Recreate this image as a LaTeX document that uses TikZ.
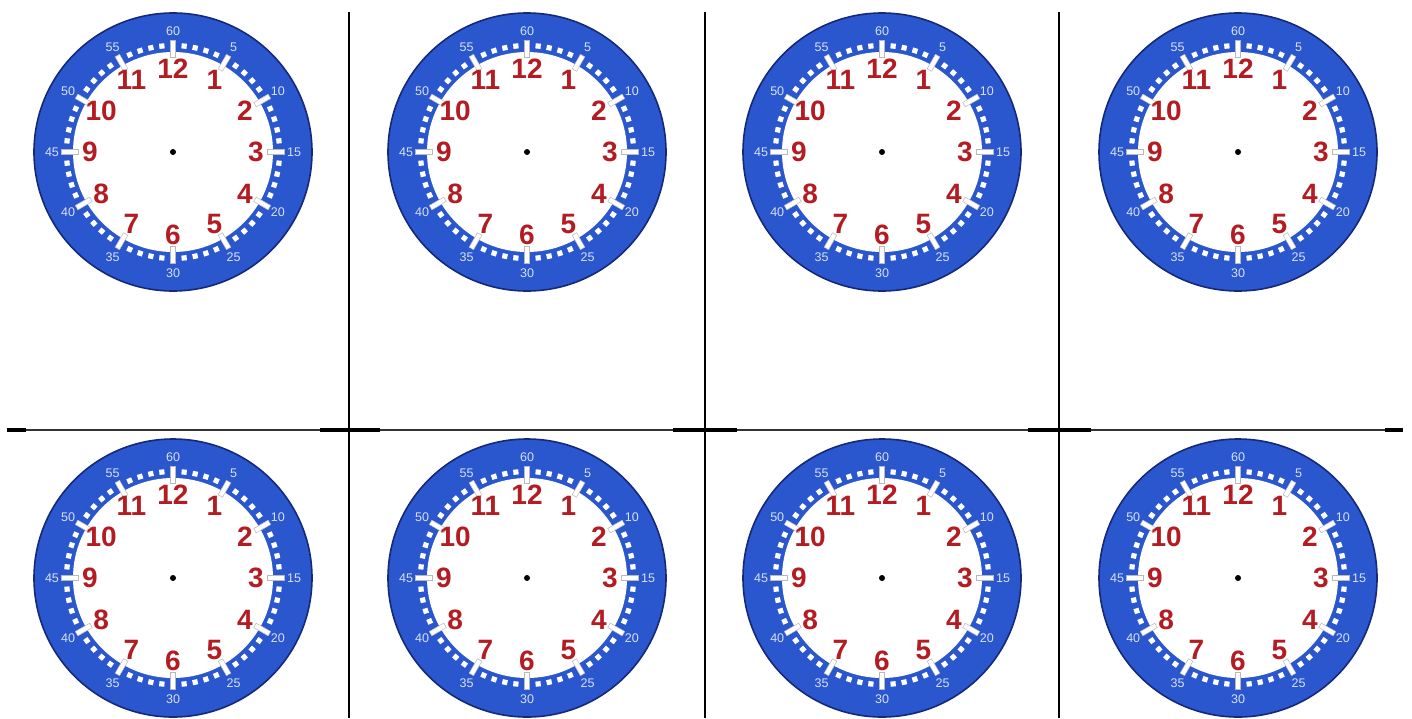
\documentclass[tikz,border=0pt]{standalone}
\usepackage{fontspec}
\setmainfont{Liberation Sans}
\definecolor{dialblue}{RGB}{42,86,206}
\definecolor{dialedge}{RGB}{22,40,120}
\definecolor{hourred}{RGB}{178,28,34}
\definecolor{minlabel}{RGB}{215,225,245}
\tikzset{
  hournum/.style={text=hourred, font=\bfseries\fontsize{21pt}{21pt}\selectfont, inner sep=0pt},
  minnum/.style={text=minlabel, font=\fontsize{9.4pt}{9.4pt}\selectfont, inner sep=0pt},
  dotsq/.style={fill=white, rectangle, minimum width=3.9pt, minimum height=3.9pt, inner sep=0pt},
  ticksq/.style={fill=white, draw=gray!55, line width=0.4pt, rectangle, minimum width=12.5pt, minimum height=3.8pt, inner sep=0pt},
  vline/.style={line width=2.2pt, black},
  hthin/.style={line width=1.1pt, black!80},
  hthick/.style={line width=2.4pt, black}
}
\begin{document}
\begin{tikzpicture}[x=0.75pt,y=-0.75pt]
\useasboundingbox (0,0) rectangle (1412,718);
\clip (0,0) rectangle (1412,718);
\foreach \cx/\cy/\k in {173/152/a,527/152/b,882/152/c,1238/152/d,173/578/e,527/578/f,882/578/g,1238/578/h} {
  \filldraw[fill=dialblue, draw=dialedge, line width=1.2pt] (\cx,\cy) circle (139);
  \fill[white] (\cx,\cy) circle (100);
  \foreach \h in {0,...,11} {
    \foreach \j [evaluate=\j as \a using (\h*5+\j)*6] in {1,2,3,4} {
      \node[dotsq, rotate=90-\a] (d-\k-\h-\j) at ({\cx+106.5*sin(\a)},{\cy-106.5*cos(\a)}) {};
    }
  }
  \foreach \h [evaluate=\h as \m using int(5*\h)] in {1,...,12} {
    \node[ticksq, rotate=90-30*\h] (t-\k-\h) at ({\cx+103*sin(30*\h)},{\cy-103*cos(30*\h)}) {};
    \node[hournum] (n-\k-\h) at ({\cx+83*sin(30*\h)},{\cy-83*cos(30*\h)}) {\h};
    \node[minnum] (m-\k-\h) at ({\cx+121*sin(30*\h)},{\cy-121*cos(30*\h)}) {\m};
  }
  \fill[black] (\cx,\cy) circle (3);
}
% grid lines
\draw[vline] (349,12) -- (349,718);
\draw[vline] (705,12) -- (705,718);
\draw[vline] (1059,12) -- (1059,718);
\draw[hthin] (7,430) -- (1403,430);
\draw[hthick] (7,430) -- (26,430);
\draw[hthick] (320,430) -- (380,430);
\draw[hthick] (673,430) -- (737,430);
\draw[hthick] (1028,430) -- (1091,430);
\draw[hthick] (1385,430) -- (1403,430);
\end{tikzpicture}
\end{document}
